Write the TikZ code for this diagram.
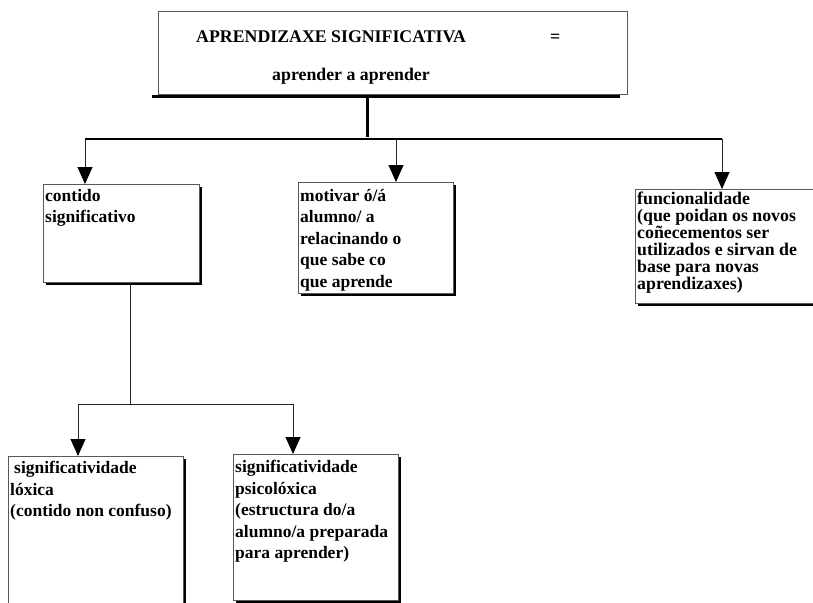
\documentclass[tikz,border=0pt]{standalone}
\usepackage{fontspec}
\setmainfont{Liberation Serif}
\usetikzlibrary{calc,arrows.meta,shadows}

\tikzset{
    caixa/.style={draw=black!65, line width=0.8pt, fill=white, anchor=north west, inner sep=0pt,
        drop shadow={shadow xshift=3pt, shadow yshift=-3pt, opacity=1, fill=black}},
    texto/.style={anchor=north west, align=left, inner xsep=2pt, inner ysep=5pt,
        font=\bfseries\fontsize{17.5}{21.5}\selectfont},
    titulotexto/.style={inner sep=0pt, font=\bfseries\fontsize{17.8}{20}\selectfont},
    frecha/.style={draw=black!85, line width=0.9pt, -{Triangle[length=17pt,width=15pt,color=black]}},
    trazo/.style={draw=black!85, line width=0.9pt}
}

\begin{document}
\begin{tikzpicture}[x=1pt,y=-1pt]
        \useasboundingbox (0,0) rectangle (813,602);
        % caixa de arriba
        \node[draw=black!65, line width=0.8pt, anchor=north west, minimum width=469pt, minimum height=83pt] (titulo) at (158,11) {};
        \node[titulotexto, anchor=base west] (tit1) at ($(titulo.north west)+(38,32)$) {APRENDIZAXE SIGNIFICATIVA};
        \node[titulotexto, anchor=base west] (igual) at ($(titulo.north west)+(392,32)$) {=};
        \node[titulotexto, anchor=base] (tit2) at ($(titulo.north west)+(193,70)$) {aprender a aprender};
        \draw[line width=3pt] ($(titulo.south west)+(-6,2)$) -- ($(titulo.south east)+(-8,2)$);
        % caixas do medio
        \node[caixa, minimum width=156pt, minimum height=98pt] (contido) at (43,184) {};
        \node[texto] (contidot) at (contido.north west) {contido\\significativo};
        \node[caixa, minimum width=155pt, minimum height=111pt] (motivar) at (298,182) {};
        \node[texto, inner ysep=7pt] (motivart) at (motivar.north west) {motivar ó/á\\alumno/ a\\relacinando o\\que sabe co\\que aprende};
        \node[caixa, minimum width=200pt, minimum height=114pt] (funcional) at (635,189) {};
        \node[texto, inner ysep=3pt, font=\bfseries\fontsize{17.8}{17}\selectfont] (funcionalt) at (funcional.north west)
            {funcionalidade\\(que poidan os novos\\coñecementos ser\\utilizados e sirvan de\\base para novas\\aprendizaxes)};
        % caixas de abaixo
        \node[caixa, minimum width=175pt, minimum height=170pt] (loxica) at (8,456) {};
        \node[texto] (loxicat) at (loxica.north west) {\hspace{4pt}significatividade\\lóxica\\(contido non confuso)};
        \node[caixa, minimum width=165pt, minimum height=146pt] (psico) at (233,454) {};
        \node[texto, inner ysep=6pt] (psicot) at (psico.north west) {significatividade\\psicolóxica\\(estructura do/a\\alumno/a preparada\\para aprender)};
        % conectores
        \coordinate (baixa) at (367,96);
        \coordinate (cruce) at (367,137);
        \coordinate (rama1) at (85,139);
        \coordinate (rama2) at (396,139);
        \coordinate (rama3) at (722,139);
        \draw[line width=3pt] (baixa) -- (cruce);
        \draw[line width=2pt] (rama1) -- (rama3);
        \draw[frecha] (rama1) -- (rama1 |- contido.north);
        \draw[frecha] (rama2) -- (rama2 |- motivar.north);
        \draw[frecha] (rama3) -- (rama3 |- funcional.north);
        \coordinate (saida) at ($(contido.south west)+(87,0)$);
        \coordinate (cruce2) at (130,404);
        \coordinate (rama4) at (78,404);
        \coordinate (rama5) at (293,404);
        \draw[trazo] (saida) -- (cruce2);
        \draw[trazo] (rama4) -- (rama5);
        \draw[frecha] (rama4) -- (rama4 |- loxica.north);
        \draw[frecha] (rama5) -- (rama5 |- psico.north);
    \end{tikzpicture}
\end{document}
